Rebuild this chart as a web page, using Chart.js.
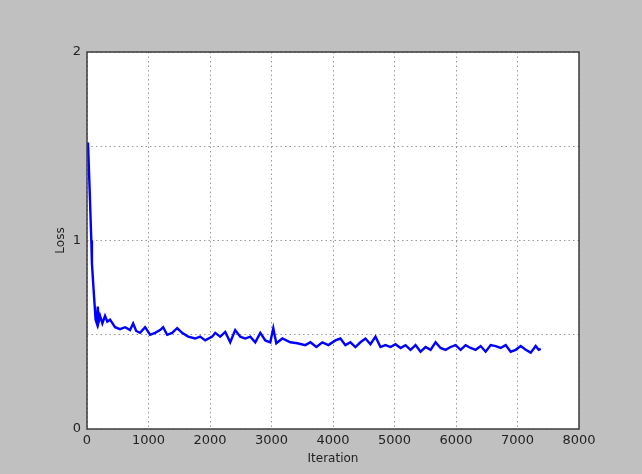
<!DOCTYPE html>
<html lang="en">
<head>
  <meta charset="UTF-8">
  <title>Loss</title>
  <script src="https://cdn.jsdelivr.net/npm/chart.js@4.4.1/dist/chart.umd.min.js"></script>
  <style>
    html, body { margin: 0; padding: 0; background: #c0c0c0; }
    #wrap { width: 642px; height: 474px; }
  </style>
</head>
<body>
  <div id="wrap"><canvas id="chart" width="642" height="474"></canvas></div>

  <script>
    // values
    const iterations = [16, 45, 70, 80, 105, 140, 160, 175, 190, 212, 250, 293, 330, 375, 456, 537, 620, 700, 750, 800, 863, 945,
      1026, 1107, 1189, 1238, 1303, 1384, 1466, 1547, 1645, 1759, 1840, 1922, 2036, 2085, 2166, 2248, 2329, 2410,
      2492, 2573, 2655, 2736, 2818, 2899, 2980, 3029, 3078, 3176, 3306, 3420, 3550, 3632, 3730, 3827, 3925, 4039,
      4120, 4202, 4283, 4365, 4446, 4528, 4609, 4691, 4772, 4853, 4935, 5016, 5098, 5179, 5261, 5342, 5423, 5505,
      5586, 5668, 5749, 5831, 5912, 5993, 6075, 6156, 6238, 6319, 6401, 6482, 6564, 6645, 6726, 6808, 6889, 6971,
      7052, 7134, 7215, 7296, 7345, 7378];
    const loss = [1.52, 1.25, 1.00, 0.88, 0.75, 0.58, 0.56, 0.65, 0.57, 0.60, 0.56, 0.60, 0.57, 0.58, 0.54, 0.53, 0.54, 0.525, 0.56, 0.52, 0.51, 0.54,
      0.50, 0.51, 0.525, 0.54, 0.50, 0.51, 0.535, 0.51, 0.49, 0.48, 0.49, 0.47, 0.49, 0.51, 0.49, 0.515, 0.46, 0.525,
      0.49, 0.48, 0.49, 0.46, 0.51, 0.47, 0.46, 0.535, 0.455, 0.48, 0.46, 0.455, 0.445, 0.46, 0.435, 0.46, 0.445, 0.47,
      0.48, 0.445, 0.46, 0.435, 0.46, 0.48, 0.45, 0.49, 0.435, 0.445, 0.435, 0.45, 0.43, 0.445, 0.42, 0.445, 0.41, 0.435,
      0.42, 0.46, 0.43, 0.42, 0.435, 0.445, 0.42, 0.445, 0.43, 0.42, 0.44, 0.41, 0.445, 0.44, 0.43, 0.445, 0.41, 0.42,
      0.44, 0.42, 0.405, 0.44, 0.42, 0.425];
    const xTicks = [0, 1000, 2000, 3000, 4000, 5000, 6000, 7000, 8000];
    const yLabels = [0, 1, 2];

    // white plot area and a box round it, like matplotlib
    const frame = {
      id: 'frame',
      beforeDraw(chart) {
        const a = chart.chartArea, c = chart.ctx;
        c.save();
        c.fillStyle = '#ffffff';
        c.fillRect(a.left, a.top, a.width, a.height);
        c.restore();
      },
      afterDraw(chart) {
        const a = chart.chartArea, c = chart.ctx;
        c.save();
        c.strokeStyle = '#3c3c3c';
        c.lineWidth = 1.5;
        c.strokeRect(a.left, a.top, a.width, a.height);
        c.restore();
      }
    };

    const font = { family: 'DejaVu Sans', size: 13 };
    const titleFont = { family: 'DejaVu Sans', size: 12 };

    new Chart(document.getElementById('chart'), {
      type: 'line',
      data: {
        datasets: [{
          data: iterations.map((x, i) => ({ x: x, y: loss[i] })),
          borderColor: '#0000ff',
          borderWidth: 2.4,
          pointRadius: 0,
          tension: 0
        }]
      },
      options: {
        responsive: false,
        animation: false,
        layout: { padding: { top: 52, right: 63, left: 0, bottom: 0 } },
        plugins: { legend: { display: false }, tooltip: { enabled: false } },
        scales: {
          x: {
            type: 'linear',
            min: 0, max: 8000,
            afterBuildTicks: s => { s.ticks = xTicks.map(v => ({ value: v })); },
            afterFit: s => { s.height = 45; },
            grid: { color: '#999999', drawTicks: false },
            border: { display: false, dash: [1.5, 3] },
            ticks: { color: '#222', font: font, padding: 4, maxRotation: 0, callback: v => String(v) },
            title: { display: true, text: 'Iteration', color: '#222', font: titleFont, padding: { top: 0, bottom: 8 } }
          },
          y: {
            min: 0, max: 2,
            ticks: {
              stepSize: 0.5,
              color: '#222', font: font, padding: 6,
              callback: v => yLabels.includes(v) ? String(v) : ''
            },
            afterFit: s => { s.width = 87; },
            grid: { color: '#999999', drawTicks: false },
            border: { display: false, dash: [1.5, 3] },
            title: { display: true, text: 'Loss', color: '#222', font: titleFont, padding: { top: 54, bottom: 0 } }
          }
        }
      },
      plugins: [frame]
    });
  </script>
</body>
</html>
